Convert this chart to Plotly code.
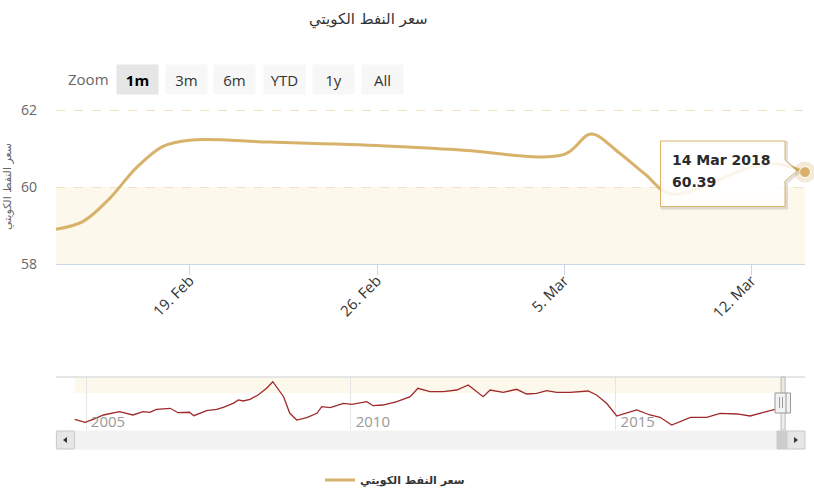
import datetime as dt
import plotly.graph_objects as go

W, H = 814, 500


def px(x):
    return x / W


def py(y):
    return 1 - y / H


# ---------------- data ----------------
title_text = "سعر النفط الكويتي"
series_name = "سعر النفط الكويتي"

main_dates = ["2018-02-14", "2018-02-15", "2018-02-16", "2018-02-17", "2018-02-18",
              "2018-02-19", "2018-02-22", "2018-02-26", "2018-03-01", "2018-03-05",
              "2018-03-06", "2018-03-07", "2018-03-08", "2018-03-09", "2018-03-12",
              "2018-03-13", "2018-03-14"]
main_values = [58.90, 59.10, 59.70, 60.50, 61.06,
               61.22, 61.17, 61.08, 60.97, 60.85,
               61.38, 60.92, 60.35, 59.82, 60.52,
               60.60, 60.39]

main_tick_dates = ["2018-02-19", "2018-02-26", "2018-03-05", "2018-03-12"]
main_tick_labels = ["19. Feb", "26. Feb", "5. Mar", "12. Mar"]
y_ticks = [58, 60, 62]

nav_dates = ["2004-10-15", "2004-12-25", "2005-02-20", "2005-05-01", "2005-08-20",
             "2005-11-20", "2006-01-30", "2006-03-17", "2006-05-01", "2006-08-05",
             "2006-09-27", "2006-12-15", "2007-01-15", "2007-04-12", "2007-06-20",
             "2007-08-05", "2007-10-12", "2007-11-18", "2007-12-20", "2008-02-06",
             "2008-04-01", "2008-05-30", "2008-07-12", "2008-09-24", "2008-11-06",
             "2008-12-24", "2009-03-03", "2009-05-12", "2009-06-14", "2009-08-11",
             "2009-09-24", "2009-11-10", "2010-01-08", "2010-04-20", "2010-06-03",
             "2010-08-10", "2010-11-14", "2011-02-14", "2011-04-08", "2011-06-06",
             "2011-07-01", "2011-10-01", "2012-01-01", "2012-03-20", "2012-07-01",
             "2012-08-18", "2012-11-17", "2013-02-17", "2013-04-27", "2013-07-05",
             "2013-09-12", "2013-11-20", "2014-02-20", "2014-06-25", "2014-08-22",
             "2014-10-30", "2015-01-08", "2015-02-24", "2015-05-26", "2015-08-25",
             "2015-11-03", "2016-01-22", "2016-05-30", "2016-09-20", "2016-12-20",
             "2017-04-16", "2017-07-16", "2017-10-16", "2018-01-04", "2018-03-14"]
nav_values = [33.8, 26.0, 33.8, 44.9, 53.4,
              44.9, 53.4, 51.9, 59.6, 62.2,
              50.8, 51.9, 43.1, 56.0, 59.6,
              64.8, 75.1, 83.7, 81.1, 85.5,
              96.6, 113.9, 131.0, 92.2, 49.3,
              31.9, 37.9, 49.3, 66.3, 63.8,
              68.9, 75.1, 72.5, 79.3, 68.9,
              70.7, 79.3, 92.2, 113.9, 106.9,
              105.1, 105.1, 109.5, 122.4, 92.2,
              109.5, 103.6, 111.3, 99.2, 101.0,
              107.7, 103.6, 103.6, 106.9, 96.6,
              75.1, 42.3, 47.5, 57.8, 44.9,
              38.9, 19.0, 38.9, 38.9, 49.3,
              47.5, 42.3, 51.9, 59.6, 60.39]

range_buttons = ["1m", "3m", "6m", "YTD", "1y", "All"]
selected_button = "1m"

# ---------------- styles ----------------
GOLD = "#d8b26a"
NAV_RED = "#9e2a2a"
CREAM = "#fdf8ec"
FONT = "Open Sans, DejaVu Sans, sans-serif"

fig = go.Figure()

fig.add_trace(go.Scatter(
    x=main_dates, y=main_values, mode="lines", name="<b>" + series_name + "</b>",
    line=dict(color=GOLD, width=3, shape="spline", smoothing=1.0),
    hoverinfo="skip", showlegend=True, xaxis="x", yaxis="y"))

# hovered last point (halo + marker)
fig.add_trace(go.Scatter(
    x=[main_dates[-1]], y=[main_values[-1]], mode="markers",
    marker=dict(size=21, color="rgba(216,178,106,0.28)"),
    hoverinfo="skip", showlegend=False, cliponaxis=False, xaxis="x", yaxis="y"))
fig.add_trace(go.Scatter(
    x=[main_dates[-1]], y=[main_values[-1]], mode="markers",
    marker=dict(size=11, color=GOLD, line=dict(color="#ffffff", width=1)),
    hoverinfo="skip", showlegend=False, cliponaxis=False, xaxis="x", yaxis="y"))

# navigator series
fig.add_trace(go.Scatter(
    x=nav_dates, y=nav_values, mode="lines",
    line=dict(color=NAV_RED, width=1.3),
    hoverinfo="skip", showlegend=False, xaxis="x2", yaxis="y2"))

shapes = []
# cream plot band 58-60
shapes.append(dict(type="rect", xref="paper", yref="y", x0=px(56), x1=px(805), y0=58, y1=60,
                   fillcolor=CREAM, line=dict(width=0), layer="below"))
# navigator top line
shapes.append(dict(type="line", xref="paper", yref="paper", x0=px(56), x1=px(805),
                   y0=py(377), y1=py(377), line=dict(color="#cccccc", width=1)))
# navigator cream band
shapes.append(dict(type="rect", xref="x2", yref="paper", x0=nav_dates[0], x1=nav_dates[-1],
                   y0=py(393), y1=py(378), fillcolor=CREAM, line=dict(width=0), layer="below"))
# selected range in navigator
shapes.append(dict(type="rect", xref="x2", yref="paper", x0=main_dates[0], x1=main_dates[-1],
                   y0=py(430), y1=py(377), fillcolor="rgba(210,210,210,0.35)",
                   line=dict(color="#b8b8b8", width=1)))
# scrollbar background
shapes.append(dict(type="rect", xref="paper", yref="paper", x0=px(56), x1=px(805),
                   y0=py(449), y1=py(431), fillcolor="#f2f2f2", line=dict(color="#f2f2f2", width=1)))
# scrollbar thumb
shapes.append(dict(type="rect", xref="paper", yref="paper", x0=px(777), x1=px(787),
                   y0=py(449), y1=py(431), fillcolor="#cccccc", line=dict(color="#cccccc", width=1)))
# scrollbar buttons
for bx0, bx1 in [(56.5, 74.5), (787, 805)]:
    shapes.append(dict(type="rect", xref="paper", yref="paper", x0=px(bx0), x1=px(bx1),
                       y0=py(449), y1=py(431), fillcolor="#e6e6e6", line=dict(color="#cccccc", width=1)))
# arrows
shapes.append(dict(type="path", xref="paper", yref="paper",
                   path=f"M {px(63)} {py(440)} L {px(67)} {py(437)} L {px(67)} {py(443)} Z",
                   fillcolor="#333333", line=dict(width=0)))
shapes.append(dict(type="path", xref="paper", yref="paper",
                   path=f"M {px(798)} {py(440)} L {px(794)} {py(437)} L {px(794)} {py(443)} Z",
                   fillcolor="#333333", line=dict(width=0)))
# navigator handle
shapes.append(dict(type="rect", xref="paper", yref="paper", x0=px(775), x1=px(790.5),
                   y0=py(413), y1=py(393), fillcolor="#f2f2f2", line=dict(color="#999999", width=1)))
for hx in (779.5, 782.5, 786):
    shapes.append(dict(type="line", xref="paper", yref="paper", x0=px(hx), x1=px(hx),
                       y0=py(397 if hx < 785 else 393), y1=py(408 if hx < 785 else 413),
                       line=dict(color="#999999", width=1)))


# tooltip
def tip_path(dx=0.0, dy=0.0):
    pts = [(660.5, 141), (785, 141), (785, 160), (797, 171), (785, 181), (785, 206.5), (660.5, 206.5)]
    return "M " + " L ".join(f"{px(x + dx)} {py(y + dy)}" for x, y in pts) + " Z"


shapes.append(dict(type="path", xref="paper", yref="paper", path=tip_path(1.5, 1.5),
                   fillcolor="rgba(0,0,0,0)", line=dict(color="rgba(0,0,0,0.12)", width=3), layer="above"))
shapes.append(dict(type="path", xref="paper", yref="paper", path=tip_path(),
                   fillcolor="rgba(255,255,255,0.86)", line=dict(color=GOLD, width=1), layer="above"))

annotations = []
# title
annotations.append(dict(text=title_text, xref="paper", yref="paper", x=px(368), y=py(19),
                        showarrow=False, xanchor="center", yanchor="middle",
                        font=dict(family="DejaVu Sans, sans-serif", size=15, color="#333333")))
# y axis title
annotations.append(dict(text=series_name, xref="paper", yref="paper", x=px(7), y=py(187),
                        showarrow=False, textangle=-90, xanchor="center", yanchor="middle",
                        font=dict(family="DejaVu Sans, sans-serif", size=11, color="#666666")))
# range selector
annotations.append(dict(text="Zoom", xref="paper", yref="paper", x=px(66), y=py(79),
                        showarrow=False, xanchor="left", yanchor="middle",
                        font=dict(family=FONT, size=15, color="#666666")))
btn_centers = [137, 186, 235, 284, 333, 382.5]
for label, cx in zip(range_buttons, btn_centers):
    sel = label == selected_button
    annotations.append(dict(text=("<b>" + label + "</b>") if sel else label,
                            xref="paper", yref="paper", x=px(cx), y=py(79),
                            showarrow=False, xanchor="center", yanchor="middle",
                            width=41, height=29, borderpad=0,
                            bgcolor="#e6e6e6" if sel else "#f7f7f7",
                            font=dict(family=FONT, size=15, color="#000000" if sel else "#333333")))
# tooltip text
last_date = dt.datetime.strptime(main_dates[-1], "%Y-%m-%d")
annotations.append(dict(text=f"<b>{last_date.day} {last_date.strftime('%b %Y')}</b>", xref="paper",
                        yref="paper", x=px(670), y=py(160), showarrow=False, xanchor="left",
                        yanchor="middle",
                        font=dict(family="DejaVu Sans, sans-serif", size=14, color="#2a2a2a")))
annotations.append(dict(text=f"<b>{main_values[-1]:.2f}</b>", xref="paper", yref="paper",
                        x=px(670), y=py(182), showarrow=False, xanchor="left", yanchor="middle",
                        font=dict(family="DejaVu Sans, sans-serif", size=14, color="#2a2a2a")))

fig.update_layout(
    width=W, height=H, autosize=False,
    margin=dict(l=0, r=0, t=0, b=0, autoexpand=False),
    paper_bgcolor="#ffffff", plot_bgcolor="rgba(0,0,0,0)",
    hovermode=False,
    font=dict(family=FONT),
    shapes=shapes, annotations=annotations,
    showlegend=True,
    legend=dict(orientation="h", x=px(320), y=py(480), xanchor="left", yanchor="middle",
                bgcolor="rgba(0,0,0,0)",
                font=dict(family="DejaVu Sans, sans-serif", size=11, color="#333333")),
    xaxis=dict(domain=[px(56), px(805)], type="date", range=[main_dates[0], main_dates[-1]],
               tickvals=main_tick_dates, ticktext=main_tick_labels, tickangle=-45,
               ticks="outside", ticklen=10, tickcolor="#ccd6eb", ticklabelstandoff=-9,
               showline=True, linecolor="#ccd6eb", linewidth=1, showgrid=False, zeroline=False,
               tickfont=dict(family=FONT, size=15, color="#333333"), anchor="y", fixedrange=True,
               automargin=False),
    yaxis=dict(domain=[py(264), py(109)], range=[58, 62.03], tickvals=y_ticks,
               showgrid=True, gridcolor="#efe2c2", griddash="dash", gridwidth=1,
               zeroline=False, showline=False, ticklabelstandoff=18,
               tickfont=dict(family=FONT, size=14, color="#666666"), anchor="x", fixedrange=True,
               automargin=False),
    xaxis2=dict(domain=[px(56), px(805)], type="date", range=["2004-06-08", "2018-07-29"],
                showgrid=True, gridcolor="#e6e6e6", dtick="M60", tick0="2005-01-01",
                tickformat="%Y", ticklabelposition="inside", ticklabelshift=22,
                ticklabelstandoff=-3,
                tickfont=dict(family=FONT, size=15, color="#999999"),
                showline=False, zeroline=False, ticks="", anchor="y2", fixedrange=True,
                automargin=False),
    yaxis2=dict(domain=[py(430), py(377)], range=[6.1, 143.1], visible=False,
                anchor="x2", fixedrange=True),
)

fig.write_html("out.html")
